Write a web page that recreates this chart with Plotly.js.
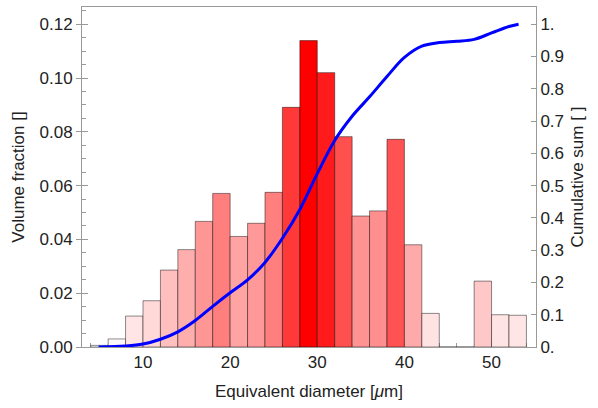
<!DOCTYPE html>
<html>
<head>
<meta charset="utf-8">
<script src="https://cdn.plot.ly/plotly-3.0.1.min.js"></script>
<style>html,body{margin:0;padding:0;background:#fff;}#chart{width:598px;height:408px;}</style>
</head>
<body>
<div id="chart"></div>
<script>
// Histogram bins (centers, width 2 µm) and volume fractions
var binCenters = [5, 7, 9, 11, 13, 15, 17, 19, 21, 23, 25, 27, 29, 31, 33, 35, 37, 39, 41, 43, 45, 47, 49, 51, 53];
var volumeFraction = [0.0006, 0.0030, 0.0115, 0.0172, 0.0286, 0.0362, 0.0467, 0.0571, 0.0411, 0.0460, 0.0575, 0.0891, 0.1139, 0.1020, 0.0782, 0.0487, 0.0506, 0.0772, 0.0380, 0.0125, 0, 0, 0.0245, 0.0120, 0.0118];

// Cumulative sum curve
var cumX = [4.9, 8, 10, 12, 14, 16, 18, 20, 22, 24, 26, 28, 30, 32, 34, 36, 38, 40, 42, 44, 46, 48, 50, 52, 53.1];
var cumY = [0, 0.003, 0.009, 0.024, 0.047, 0.082, 0.126, 0.168, 0.208, 0.262, 0.337, 0.426, 0.537, 0.640, 0.715, 0.775, 0.838, 0.897, 0.932, 0.943, 0.947, 0.953, 0.973, 0.993, 1.0];

// Tick labels
var leftTicks = [0, 0.02, 0.04, 0.06, 0.08, 0.10, 0.12];
var leftTickText = ['0.00', '0.02', '0.04', '0.06', '0.08', '0.10', '0.12'];
var rightTicks = [0, 0.1, 0.2, 0.3, 0.4, 0.5, 0.6, 0.7, 0.8, 0.9, 1.0];
var rightTickText = ['0.', '0.1', '0.2', '0.3', '0.4', '0.5', '0.6', '0.7', '0.8', '0.9', '1.'];
var xTicks = [10, 20, 30, 40, 50];

var vmax = Math.max.apply(null, volumeFraction);
var barColors = volumeFraction.map(function (v) {
  var t = v / vmax;
  var g = Math.round(255 * (1 - t));
  return 'rgb(255,' + g + ',' + g + ')';
});

var font = {family: 'Liberation Sans, Arial, sans-serif', size: 17, color: '#222'};
var axisColor = '#9a9a9a';
var leftMax = 0.1264;

var traces = [
  {
    type: 'bar', x: binCenters, y: volumeFraction, width: 2,
    marker: {color: barColors, line: {color: 'rgba(0,0,0,0.45)', width: 1}},
    hoverinfo: 'skip', showlegend: false
  },
  {
    type: 'scatter', mode: 'lines', x: cumX, y: cumY, yaxis: 'y2',
    line: {color: '#0000ff', width: 3, shape: 'spline', smoothing: 1},
    hoverinfo: 'skip', showlegend: false
  }
];

var layout = {
  width: 598, height: 408,
  margin: {l: 82, r: 62, t: 7, b: 61},
  paper_bgcolor: '#fff', plot_bgcolor: '#fff',
  font: font,
  bargap: 0,
  xaxis: {
    range: [3, 55.1], tickvals: xTicks, ticktext: xTicks.map(String),
    showgrid: false, zeroline: false,
    showline: true, linecolor: axisColor, linewidth: 1, mirror: true,
    ticks: 'inside', ticklen: 6, tickcolor: axisColor,
    minor: {dtick: 2, tick0: 0, ticks: 'inside', ticklen: 4, tickcolor: axisColor, showgrid: false},
    layer: 'below traces',
    tickfont: font,
    title: {text: 'Equivalent diameter [<i>μ</i>m]', font: font, standoff: 13}
  },
  yaxis: {
    range: [0, leftMax], tickvals: leftTicks, ticktext: leftTickText,
    showgrid: false, zeroline: false,
    showline: true, linecolor: axisColor, linewidth: 1,
    ticks: 'outside', ticklen: 5, tickcolor: axisColor,
    minor: {dtick: 0.005, tick0: 0, ticks: 'inside', ticklen: 4, tickcolor: axisColor, showgrid: false},
    layer: 'below traces',
    tickfont: font,
    title: {text: 'Volume fraction []', font: font, standoff: 10}
  },
  yaxis3: {
    overlaying: 'y', side: 'left', matches: 'y',
    range: [0, leftMax], tickvals: leftTicks,
    showgrid: false, zeroline: false, showline: false, showticklabels: false,
    ticks: 'inside', ticklen: 6, tickcolor: axisColor, layer: 'below traces'
  },
  yaxis2: {
    overlaying: 'y', side: 'right',
    range: [0, leftMax / 0.12], tickvals: rightTicks, ticktext: rightTickText,
    showgrid: false, zeroline: false,
    showline: true, linecolor: axisColor, linewidth: 1,
    ticks: 'inside', ticklen: 5, tickcolor: axisColor,
    tickfont: font,
    title: {text: 'Cumulative sum [ ]', font: font, standoff: 8}
  }
};

// dummy trace to activate the extra inside-tick axis
traces.push({type: 'scatter', mode: 'none', x: [], y: [], yaxis: 'y3', hoverinfo: 'skip', showlegend: false});

Plotly.newPlot('chart', traces, layout, {displayModeBar: false, staticPlot: true});
</script>
</body>
</html>
